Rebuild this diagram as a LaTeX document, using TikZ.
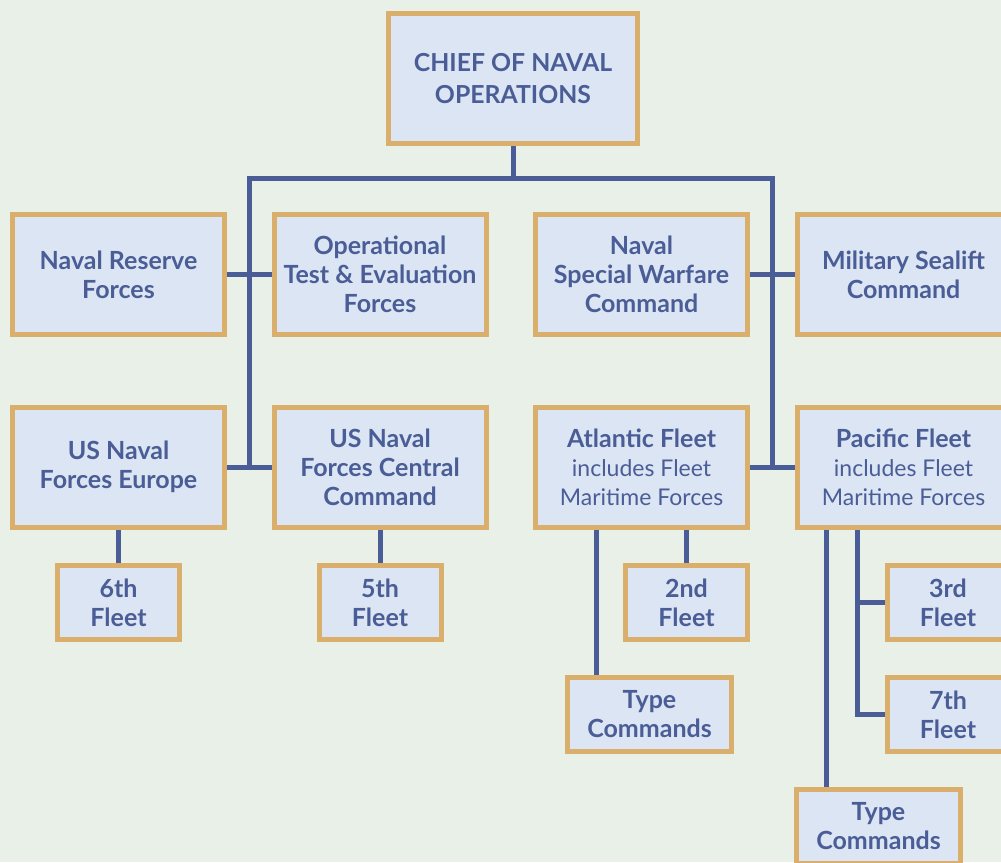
\documentclass[tikz,border=0pt]{standalone}
\usepackage{fontspec}
\setmainfont{Lato}
\definecolor{navy}{HTML}{4A5D96}
\definecolor{tan}{HTML}{DAAE6B}
\definecolor{pale}{HTML}{DCE5F3}
\definecolor{sage}{HTML}{E8F0E7}
\pgfdeclarelayer{backlayer}
\pgfdeclarelayer{edgelayer}
\pgfdeclarelayer{nodelayer}
\pgfsetlayers{backlayer,edgelayer,nodelayer,main}
\tikzstyle{none} = []
\tikzstyle{Tan Box}=[draw=tan, fill=pale, line width=2.5pt, text=navy, align=center, inner sep=0pt, outer sep=0pt, font=\bfseries\fontsize{12.5}{14.5}\selectfont]
\tikzstyle{Big Box}=[Tan Box, minimum width=106pt, minimum height=60pt]
\tikzstyle{Small Box}=[Tan Box, minimum width=61pt, minimum height=37pt]
\tikzstyle{Wide Box}=[Tan Box, minimum width=82pt, minimum height=37pt]
\tikzstyle{Navy Line}=[-, draw=navy, line width=2.5pt]
\newcommand{\plain}[1]{{\mdseries\fontsize{11.5}{14}\selectfont #1}}

\begin{document}
\begin{tikzpicture}[x=0.5pt, y=-0.5pt]
	\useasboundingbox (0, 0) rectangle (1001, 862);
	\begin{pgfonlayer}{backlayer}
		\fill [sage] (0, 0) rectangle (1001, 862);
	\end{pgfonlayer}
	\begin{pgfonlayer}{nodelayer}
		\node [style=Tan Box, minimum width=124.5pt, minimum height=65pt, font=\bfseries\fontsize{12.4}{16}\selectfont] (0) at (513, 78.5) {CHIEF OF NAVAL\\OPERATIONS};
		\node [style=Big Box] (1) at (118.5, 274.5) {Naval Reserve\\Forces};
		\node [style=Big Box] (2) at (380, 274.5) {Operational\\Test \& Evaluation\\Forces};
		\node [style=Big Box] (3) at (641.5, 274.5) {Naval\\Special Warfare\\Command};
		\node [style=Big Box] (4) at (903.5, 274.5) {Military Sealift\\Command};
		\node [style=Big Box] (5) at (118.5, 467) {US Naval\\Forces Europe};
		\node [style=Big Box] (6) at (380, 467) {US Naval\\Forces Central\\Command};
		\node [style=Big Box] (7) at (641.5, 467) {Atlantic Fleet\\\plain{includes Fleet}\\\plain{Maritime Forces}};
		\node [style=Big Box] (8) at (903.5, 467) {Pacific Fleet\\\plain{includes Fleet}\\\plain{Maritime Forces}};
		\node [style=Small Box] (9) at (118.5, 602.5) {6th\\Fleet};
		\node [style=Small Box] (10) at (380, 602.5) {5th\\Fleet};
		\node [style=Small Box] (11) at (686.5, 602.5) {2nd\\Fleet};
		\node [style=Wide Box] (12) at (649.5, 714.5) {Type\\Commands};
		\node [style=Small Box] (13) at (948, 602.5) {3rd\\Fleet};
		\node [style=Small Box] (14) at (948, 714.5) {7th\\Fleet};
		\node [style=Wide Box] (15) at (878.5, 826.5) {Type\\Commands};
		\node [style=none] (20) at (513, 178) {};
		\node [style=none] (21) at (249, 178) {};
		\node [style=none] (22) at (772, 178) {};
		\node [style=none] (23) at (249, 467) {};
		\node [style=none] (24) at (772, 467) {};
		\node [style=none] (25) at (596, 530) {};
		\node [style=none] (26) at (596, 680) {};
		\node [style=none] (27) at (857, 530) {};
		\node [style=none] (28) at (857, 602.5) {};
		\node [style=none] (29) at (857, 714.5) {};
		\node [style=none] (30) at (826, 530) {};
		\node [style=none] (31) at (826, 790) {};
	\end{pgfonlayer}
	\begin{pgfonlayer}{edgelayer}
		\draw [style=Navy Line] (0) to (20.center);
		\draw [style=Navy Line] (23.center) -- (21.center) -- (22.center) -- (24.center);
		\draw [style=Navy Line] (1) to (2);
		\draw [style=Navy Line] (3) to (4);
		\draw [style=Navy Line] (5) to (6);
		\draw [style=Navy Line] (7) to (8);
		\draw [style=Navy Line] (5) to (9);
		\draw [style=Navy Line] (6) to (10);
		\draw [style=Navy Line] (11 |- 7.south) to (11);
		\draw [style=Navy Line] (25.center) to (26.center);
		\draw [style=Navy Line] (27.center) -- (29.center) -- (14);
		\draw [style=Navy Line] (28.center) to (13);
		\draw [style=Navy Line] (30.center) to (31.center);
	\end{pgfonlayer}
\end{tikzpicture}
\end{document}
